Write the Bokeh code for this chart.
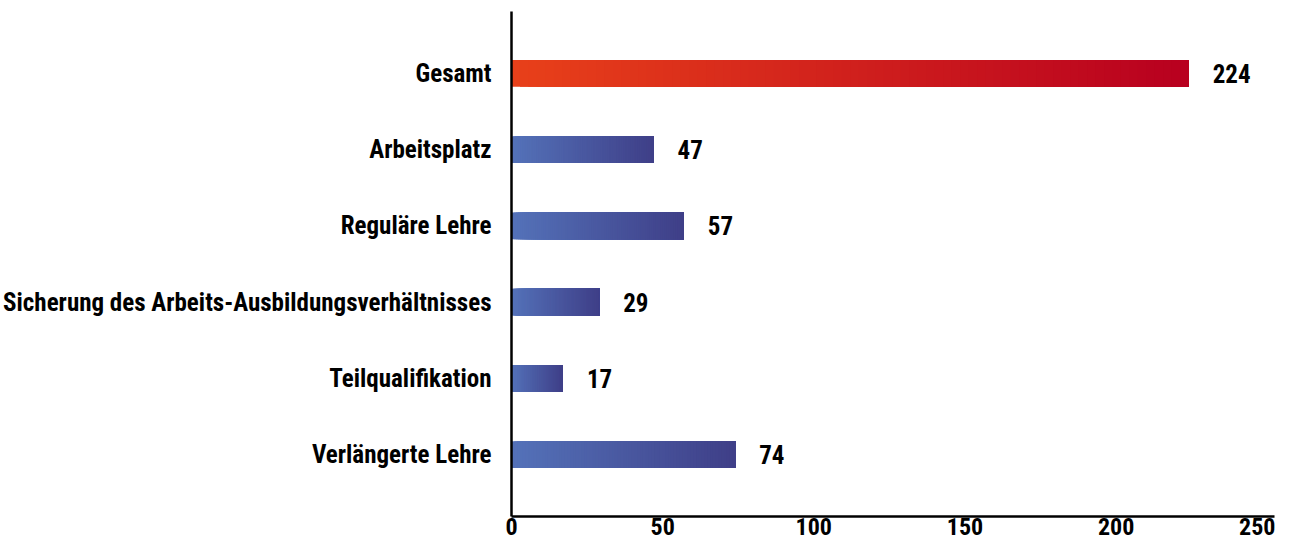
from bokeh.plotting import figure
from bokeh.models import FactorRange, Range1d, FixedTicker, ColumnDataSource
from bokeh.core.properties import value
from bokeh.embed import file_html
from bokeh.resources import INLINE

categories = ["Gesamt", "Arbeitsplatz", "Reguläre Lehre",
              "Sicherung des Arbeits-Ausbildungsverhältnisses",
              "Teilqualifikation", "Verlängerte Lehre"]
values = [224, 47, 57, 29, 17, 74]
x_ticks = [0, 50, 100, 150, 200, 250]

red_start, red_end = (232, 64, 26), (184, 0, 31)
blue_start, blue_end = (84, 114, 185), (63, 63, 136)

FONT = "Roboto Condensed"
FSIZE = "25px"

p = figure(width=1275, height=545, output_backend="svg", toolbar_location=None,
           y_range=FactorRange(factors=list(reversed(categories)),
                               range_padding=0.31, range_padding_units="absolute"),
           x_range=Range1d(0, 252.4),
           min_border_left=504, min_border_right=1, min_border_top=11, min_border_bottom=29)
p.outline_line_color = None
p.grid.visible = False
p.background_fill_color = "white"

N = 80
lefts, rights, ys, colors = [], [], [], []
for i, (cat, v) in enumerate(zip(categories, values)):
    s, e = (red_start, red_end) if i == 0 else (blue_start, blue_end)
    for k in range(N):
        t = k / (N - 1)
        c = tuple(int(round(s[j] + (e[j] - s[j]) * t)) for j in range(3))
        lefts.append(v * k / N)
        rights.append(v)
        ys.append(cat)
        colors.append("#%02x%02x%02x" % c)

src = ColumnDataSource(dict(left=lefts, right=rights, y=ys, color=colors))
p.hbar(y="y", left="left", right="right", height=0.35, fill_color="color",
       line_color=None, source=src)

lab = ColumnDataSource(dict(x=values, y=categories, t=[str(v) for v in values]))
p.text(x="x", y="y", text="t", source=lab, x_offset=24, text_baseline="middle",
       text_align="left", text_font=value(FONT), text_font_style="bold",
       text_font_size=FSIZE, text_color="black")

p.xaxis.ticker = FixedTicker(ticks=x_ticks)
for ax in (p.xaxis[0], p.yaxis[0]):
    ax.axis_line_width = 2.5
    ax.axis_line_color = "black"
    ax.major_tick_line_color = None
    ax.minor_tick_line_color = None
    ax.major_tick_out = 0
    ax.major_tick_in = 0
    ax.minor_tick_out = 0
    ax.minor_tick_in = 0
    ax.major_label_text_font = FONT
    ax.major_label_text_font_style = "bold"
    ax.major_label_text_font_size = FSIZE
    ax.major_label_text_color = "black"
p.xaxis.major_label_text_font_size = "24px"
p.xaxis.major_label_standoff = 1
p.yaxis.major_label_standoff = 20

open("out.html", "w").write(file_html(p, INLINE))
